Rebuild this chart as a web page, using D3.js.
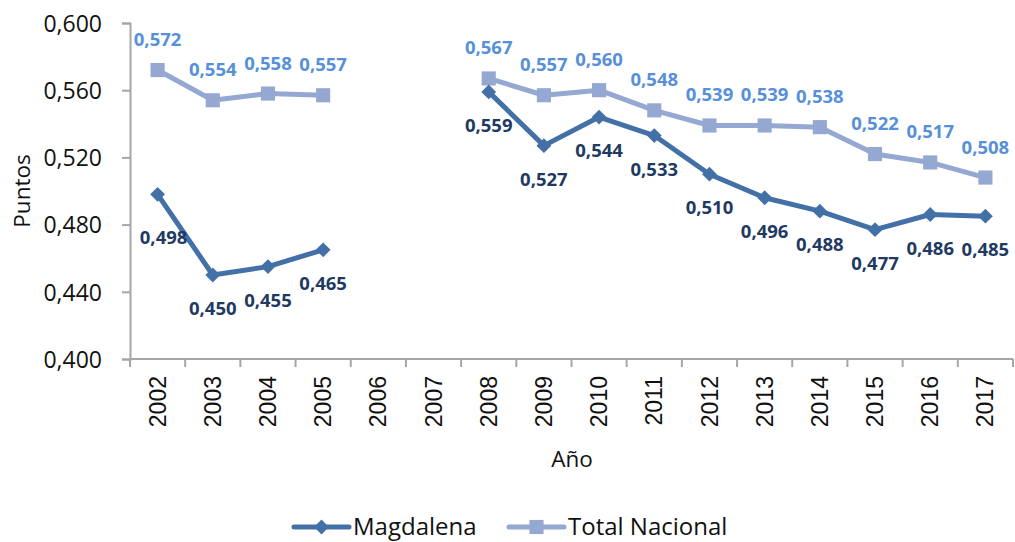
<!DOCTYPE html>
<html lang="es">
<head>
    <meta charset="UTF-8">
    <title>Magdalena vs Total Nacional</title>
    <style>
        body { margin: 0; background: #fff; }
        svg { display: block; }
        .ytick text { font-family: "Open Sans", sans-serif; font-size: 23px; fill: #111; }
        .xtick text { font-family: "Liberation Sans", Arial, sans-serif; font-size: 23px; fill: #111; }
        .lbl { font-family: "Open Sans", sans-serif; font-size: 18.5px; font-weight: bold; }
        .title { font-family: "Open Sans", sans-serif; font-size: 22.5px; fill: #111; }
        .legend text { font-family: "Open Sans", sans-serif; font-size: 24px; fill: #111; }
    </style>
</head>
<body>
<svg width="1015" height="542"></svg>
<script src="https://d3js.org/d3.v7.min.js"></script>
<script>
    const years = ["2002","2003","2004","2005","2006","2007","2008","2009","2010","2011","2012","2013","2014","2015","2016","2017"];
    const magdalena = [0.498, 0.450, 0.455, 0.465, null, null, 0.559, 0.527, 0.544, 0.533, 0.510, 0.496, 0.488, 0.477, 0.486, 0.485];
    const totalNacional = [0.572, 0.554, 0.558, 0.557, null, null, 0.567, 0.557, 0.560, 0.548, 0.539, 0.539, 0.538, 0.522, 0.517, 0.508];
    const yTicks = [0.400, 0.440, 0.480, 0.520, 0.560, 0.600];

    const svg = d3.select("svg");
    const axisColor = "#a6a6a6";
    const fmt = d => d.toFixed(3).replace(".", ",");

    const x = d3.scaleBand().domain(years).range([130, 1013]).padding(0);
    const y = d3.scaleLinear().domain([0.4, 0.6]).range([359, 23]);

    // y axis
    const yAxis = svg.append("g")
        .attr("transform", "translate(130,0)")
        .call(d3.axisLeft(y).tickValues(yTicks).tickSize(8).tickPadding(20).tickFormat(fmt));
    yAxis.selectAll(".tick").attr("class", "tick ytick");
    yAxis.select(".domain").attr("stroke", axisColor).attr("stroke-width", 2);
    yAxis.selectAll(".tick line").attr("stroke", axisColor).attr("stroke-width", 2);
    yAxis.selectAll("text").attr("font-family", null).attr("font-size", null).attr("dy", "0.36em");

    // x axis: labels at centers, ticks at band edges
    const xAxis = svg.append("g")
        .attr("transform", "translate(0,359)")
        .call(d3.axisBottom(x).tickSize(0).tickPadding(0));
    xAxis.select(".domain").remove();
    xAxis.selectAll(".tick").attr("class", "tick xtick");
    xAxis.selectAll("text")
        .attr("font-family", null).attr("font-size", null)
        .attr("transform", "rotate(-90)")
        .attr("text-anchor", "end")
        .attr("x", -17).attr("y", 0).attr("dy", "0.35em");

    const edges = years.map(d => x(d)).concat([x.range()[1]]);
    svg.append("line")
        .attr("x1", x.range()[0]).attr("x2", x.range()[1])
        .attr("y1", y(0.4)).attr("y2", y(0.4))
        .attr("stroke", axisColor).attr("stroke-width", 2);
    svg.selectAll(".edge").data(edges).enter().append("line")
        .attr("x1", d => d).attr("x2", d => d)
        .attr("y1", y(0.4)).attr("y2", y(0.4) + 8)
        .attr("stroke", axisColor).attr("stroke-width", 2);

    // axis titles
    svg.append("text").attr("class", "title")
        .attr("x", 572).attr("y", 467).attr("text-anchor", "middle").text("Año");
    svg.append("text").attr("class", "title")
        .attr("transform", "translate(30,191) rotate(-90)")
        .attr("text-anchor", "middle").text("Puntos");

    const cx = i => x(years[i]) + x.bandwidth() / 2;
    const series = [
        { name: "Total Nacional", values: totalNacional, color: "#94a8d1", label: "#5790d8", size: 200, rot: 0, dy: -24 },
        { name: "Magdalena", values: magdalena, color: "#4470a8", label: "#1f3a62", size: 110, rot: 45, dy: 40 }
    ];

    series.forEach(s => {
        const pts = s.values.map((v, i) => ({ i, v }));
        const line = d3.line()
            .defined(d => d.v != null)
            .x(d => cx(d.i))
            .y(d => y(d.v));
        svg.append("path").datum(pts)
            .attr("fill", "none").attr("stroke", s.color)
            .attr("stroke-width", 5).attr("stroke-linejoin", "round")
            .attr("d", line);
        svg.selectAll(null).data(pts.filter(d => d.v != null)).enter().append("path")
            .attr("d", d3.symbol().type(d3.symbolSquare).size(s.size))
            .attr("transform", d => `translate(${cx(d.i)},${y(d.v)}) rotate(${s.rot})`)
            .attr("fill", s.color);
        svg.selectAll(null).data(pts.filter(d => d.v != null)).enter().append("text")
            .attr("class", "lbl")
            .attr("x", d => cx(d.i) + (s.name === "Magdalena" && d.i === 0 ? 6 : 0))
            .attr("y", d => y(d.v) + s.dy + (s.name === "Magdalena" && d.i === 0 ? 10 : 0))
            .attr("text-anchor", "middle")
            .attr("fill", s.label)
            .text(d => fmt(d.v));
    });

    // legend
    const legend = svg.append("g").attr("class", "legend");
    const legendItems = [
        { s: series[1], x0: 294 },
        { s: series[0], x0: 509 }
    ];
    legendItems.forEach(({ s, x0 }) => {
        const g = legend.append("g").attr("transform", `translate(${x0},527)`);
        g.append("line").attr("x1", 0).attr("x2", 55).attr("y1", 0).attr("y2", 0)
            .attr("stroke", s.color).attr("stroke-width", 5).attr("stroke-linecap", "round");
        g.append("path").attr("d", d3.symbol().type(d3.symbolSquare).size(s.size)())
            .attr("transform", `translate(27.5,0) rotate(${s.rot})`).attr("fill", s.color);
        g.append("text").attr("x", 59).attr("y", 0).attr("dy", "0.35em").text(s.name);
    });
</script>
</body>
</html>
